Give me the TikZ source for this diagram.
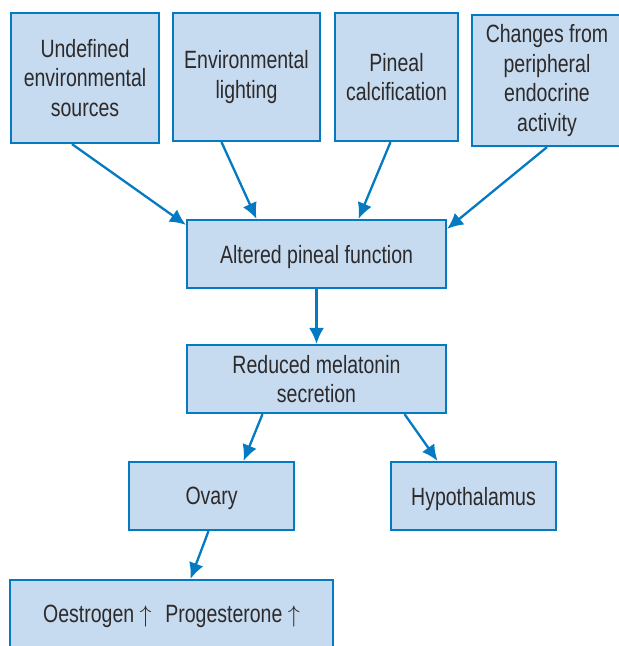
\documentclass[tikz,border=0pt]{standalone}
\usepackage{fontspec}
\setmainfont{Liberation Sans}[FakeStretch=0.78]
\usetikzlibrary{arrows.meta,calc}
\definecolor{boxfill}{RGB}{198,219,239}
\definecolor{boxline}{RGB}{4,122,194}
\definecolor{boxtext}{RGB}{45,42,44}
\tikzset{
    box/.style={draw=boxline, fill=boxfill, line width=1.1pt, inner sep=0pt, align=center,
        text=boxtext, font=\fontsize{12.5}{14.75}\selectfont},
    oneline/.style={box, text depth=0pt},
    arr/.style={draw=boxline, line width=1.15pt, -{Latex[length=8pt,width=7.5pt]}}
}
\begin{document}
\begin{tikzpicture}[x=0.5pt, y=-0.5pt]
        \useasboundingbox (0, 0) rectangle (618, 646);

        % sources
        \node[box, minimum width=74pt, minimum height=65pt] (undef) at (85, 78) {Undefined\\environmental\\sources};
        \node[box, minimum width=73.5pt, minimum height=64pt] (light) at (246.5, 77) {Environmental\\lighting};
        \node[box, minimum width=61.5pt, minimum height=64pt] (calc) at (396.5, 77) {Pineal\\calcification};
        \node[box, minimum width=75pt, minimum height=65.5pt] (endo) at (547, 80.5) {Changes from\\peripheral\\endocrine\\activity};

        % chain
        \node[oneline, minimum width=129.5pt, minimum height=34pt] (altered) at (316.5, 254) {Altered pineal function};
        \node[box, minimum width=129.5pt, minimum height=34pt] (reduced) at (316.5, 379) {Reduced melatonin\\secretion};
        \node[oneline, minimum width=82.5pt, minimum height=34pt] (ovary) at (211.5, 496) {Ovary};
        \node[oneline, minimum width=82.5pt, minimum height=34pt] (hypo) at (473.5, 496) {Hypothalamus};
        \node[oneline, minimum width=161.5pt, minimum height=34pt] (horm) at (171.5, 614) {Oestrogen \(\uparrow\)\hspace{0.55em}Progesterone \(\uparrow\)};

        \draw[arr] ($(undef.south)+(-13, 0)$) -- ($(altered.north west)+(0, 6)$);
        \draw[arr] ($(light.south)+(-25, 0)$) -- ($(altered.north)+(-60, 0)$);
        \draw[arr] ($(calc.south)+(-6, 0)$) -- ($(altered.north)+(42, 0)$);
        \draw[arr] (endo.south) -- ($(altered.north east)+(0, 10)$);
        \draw[arr] (altered) -- (reduced);
        \draw[arr] ($(reduced.south)+(-54, 0)$) -- ($(ovary.north)+(32, 0)$);
        \draw[arr] ($(reduced.south)+(88, 0)$) -- ($(hypo.north)+(-36, 0)$);
        \draw[arr] ($(ovary.south)+(-3, 0)$) -- ($(horm.north)+(19, 0)$);
    \end{tikzpicture}
\end{document}
